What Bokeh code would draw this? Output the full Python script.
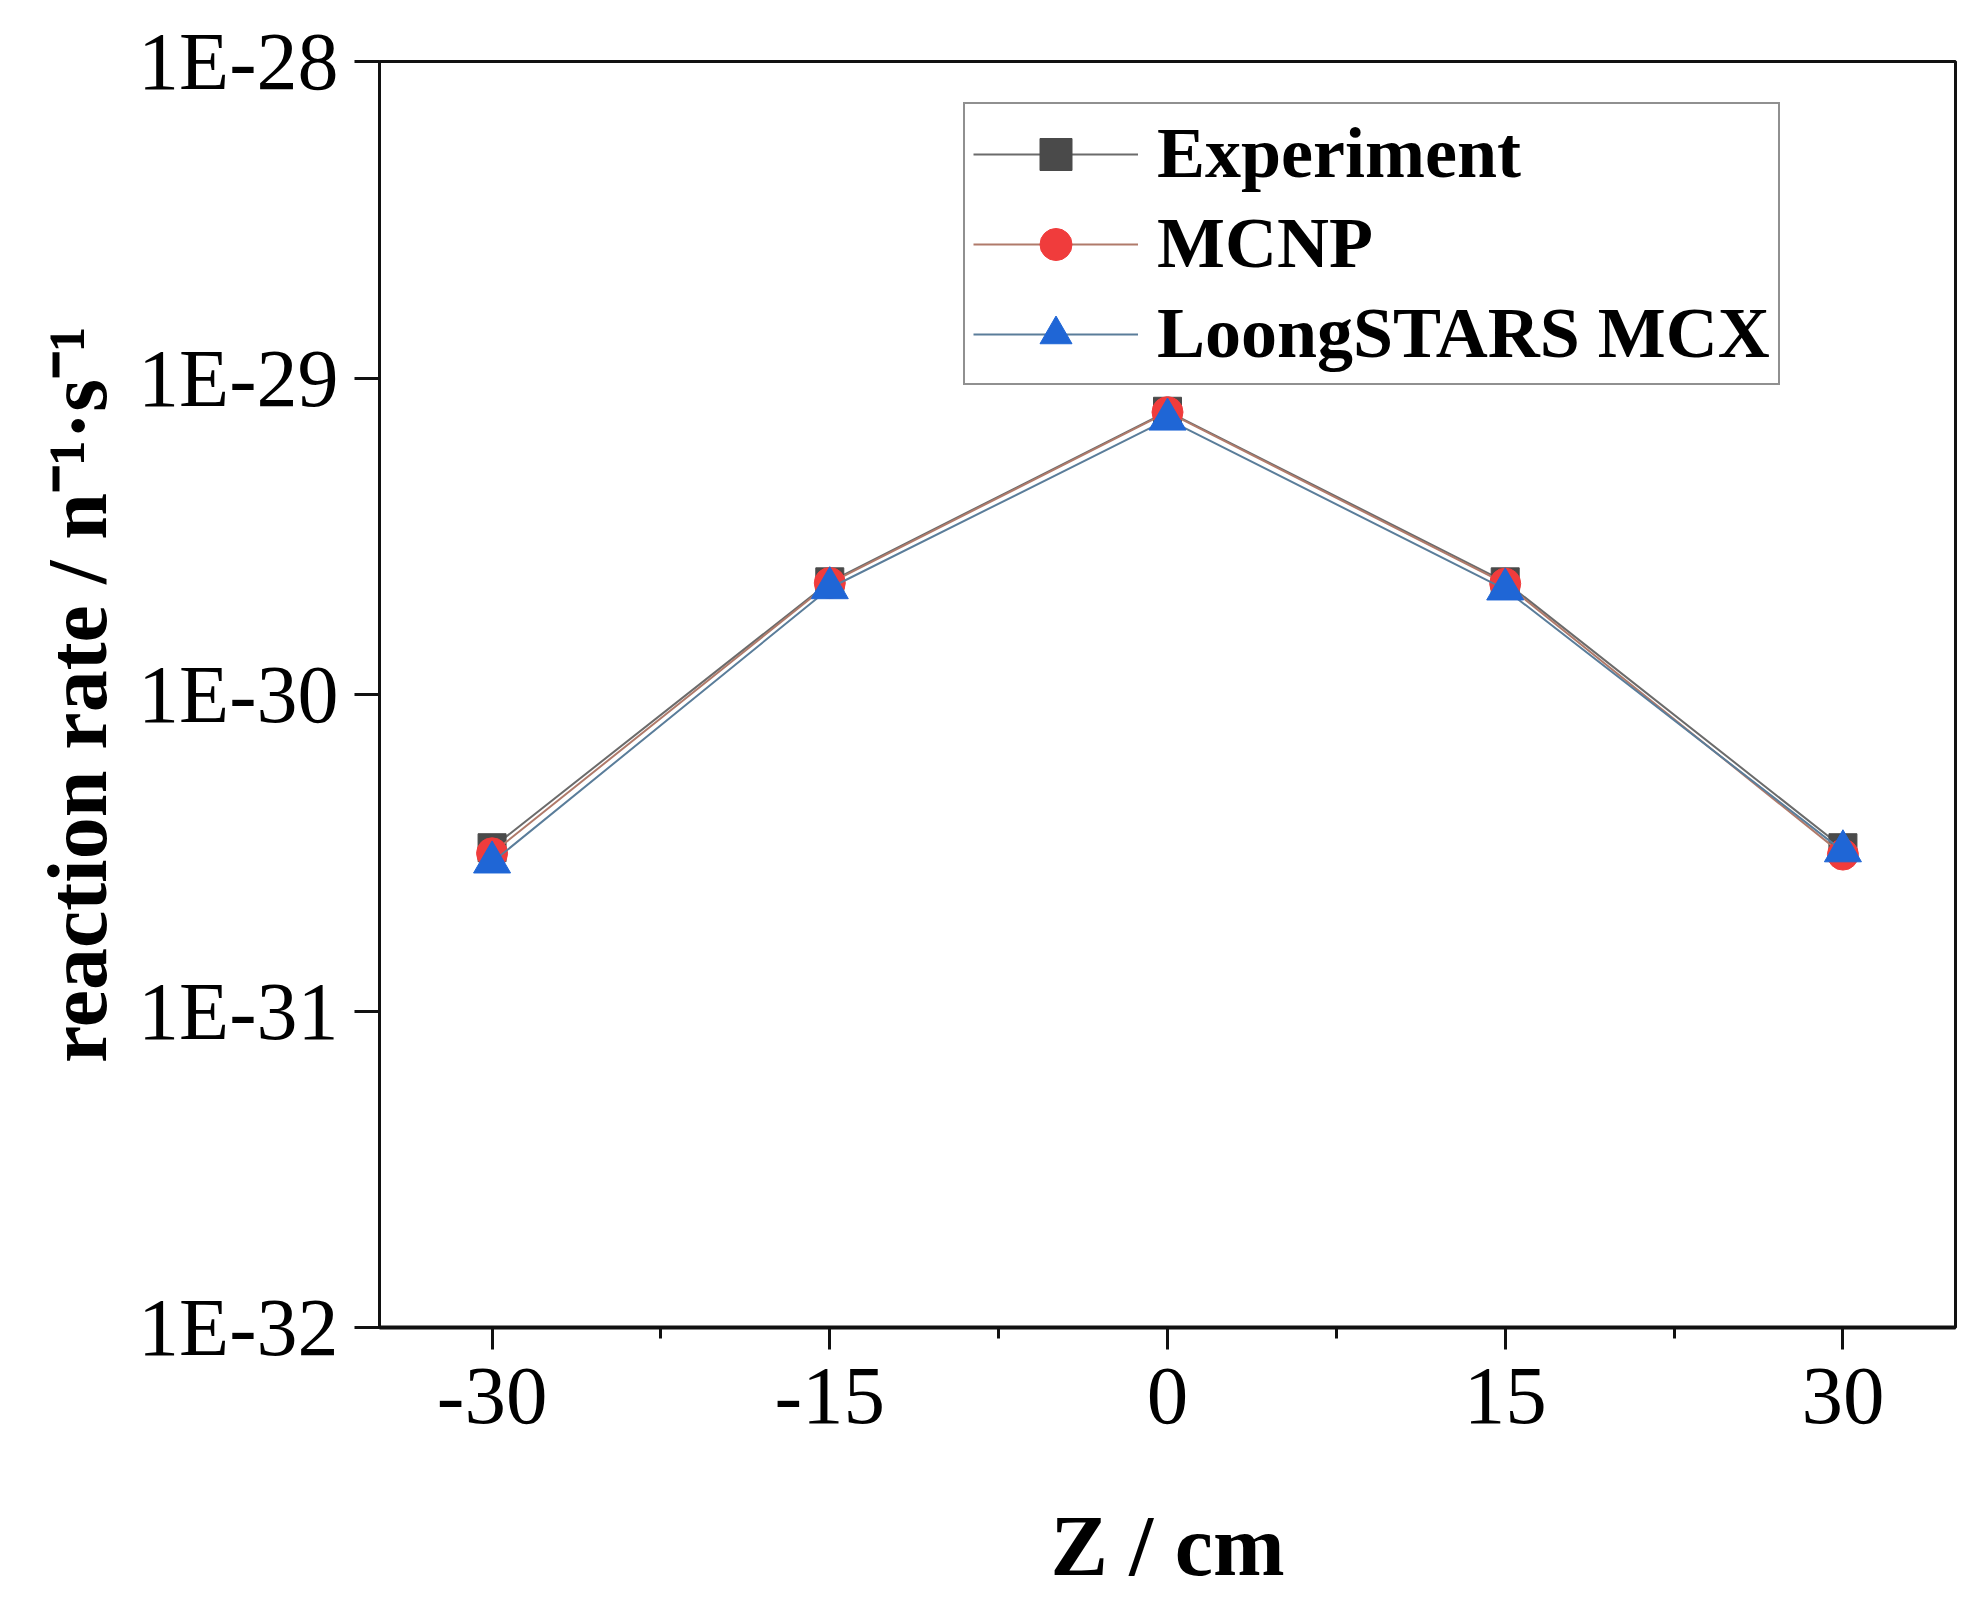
from bokeh.plotting import figure
from bokeh.models import FixedTicker, Legend, LegendItem, Range1d
from bokeh.embed import file_html
from bokeh.resources import INLINE

# ---- data ----
z_cm = [-30, -15, 0, 15, 30]
experiment = [3.28e-31, 2.27e-30, 7.85e-30, 2.27e-30, 3.28e-31]
mcnp = [3.15e-31, 2.25e-30, 7.80e-30, 2.24e-30, 3.12e-31]
mcx = [2.95e-31, 2.17e-30, 7.40e-30, 2.15e-30, 3.20e-31]

series_names = ["Experiment", "MCNP", "LoongSTARS MCX"]

x_ticks = [-30, -15, 0, 15, 30]
x_tick_labels = ["-30", "-15", "0", "15", "30"]
x_minor_ticks = [-22.5, -7.5, 7.5, 22.5]
y_ticks = [1e-32, 1e-31, 1e-30, 1e-29, 1e-28]
y_tick_labels = ["1E-32", "1E-31", "1E-30", "1E-29", "1E-28"]

FONT = "Liberation Serif"

p = figure(
    width=1960, height=1598,
    y_axis_type="log",
    x_range=Range1d(-35, 35),
    y_range=Range1d(1e-32, 1e-28),
    output_backend="svg",
    toolbar_location=None,
    min_border_left=379, min_border_right=5,
    min_border_top=61, min_border_bottom=271,
)
p.background_fill_color = "white"
p.border_fill_color = "white"
p.grid.visible = False
p.outline_line_color = "#111111"
p.outline_line_width = 3

# axes
xa = p.xaxis[0]
xa.ticker = FixedTicker(ticks=x_ticks, minor_ticks=x_minor_ticks)
xa.major_label_overrides = dict(zip(x_ticks, x_tick_labels))
xa.axis_label = "Z / cm"
xa.axis_line_width = 4
xa.axis_line_color = "#111111"
xa.major_tick_out = 22
xa.major_tick_in = 0
xa.minor_tick_out = 11
xa.minor_tick_in = 0
xa.major_tick_line_width = 3
xa.minor_tick_line_width = 3
xa.major_tick_line_color = "#111111"
xa.minor_tick_line_color = "#111111"
xa.major_label_text_font = FONT
xa.major_label_text_font_size = "83px"
xa.major_label_text_color = "black"
xa.major_label_standoff = 19
xa.axis_label_text_font = FONT
xa.axis_label_text_font_style = "bold"
xa.axis_label_text_font_size = "86px"
xa.axis_label_text_color = "black"
xa.axis_label_standoff = 72

ya = p.yaxis[0]
ya.ticker = FixedTicker(ticks=y_ticks, minor_ticks=[])
ya.major_label_overrides = dict(zip(y_ticks, y_tick_labels))
ya.axis_label = "reaction rate / n\u207b\u00b9\u00b7s\u207b\u00b9"
ya.axis_line_width = 3
ya.axis_line_color = "#111111"
ya.major_tick_out = 25
ya.major_tick_in = 0
ya.minor_tick_out = 0
ya.minor_tick_in = 0
ya.major_tick_line_width = 3
ya.major_tick_line_color = "#111111"
ya.major_label_text_font = FONT
ya.major_label_text_font_size = "82px"
ya.major_label_text_color = "black"
ya.major_label_standoff = 16
ya.axis_label_text_font = FONT
ya.axis_label_text_font_style = "bold"
ya.axis_label_text_font_size = "84px"
ya.axis_label_text_color = "black"
ya.axis_label_standoff = 11

# series
styles = [
    dict(line="#6b6b6b", marker="square", fill="#4a4a4a", size=28),
    dict(line="#b07a6a", marker="circle", fill="#f03c3c", size=31),
    dict(line="#5a7d9a", marker="triangle", fill="#1f66d6", size=37),
]
items = []
for name, vals, st in zip(series_names, [experiment, mcnp, mcx], styles):
    lr = p.line(z_cm, vals, line_color=st["line"], line_width=2)
    sr = p.scatter(z_cm, vals, marker=st["marker"], size=st["size"],
                   fill_color=st["fill"], line_color=st["fill"], line_width=1)
    items.append(LegendItem(label=name, renderers=[lr, sr]))

legend = Legend(
    items=items,
    location=(584, 942),
    label_text_font=FONT,
    label_text_font_style="bold",
    label_text_font_size="72px",
    label_text_color="black",
    glyph_width=165,
    glyph_height=80,
    label_height=80,
    label_standoff=19,
    spacing=7,
    padding=8,
    margin=0,
    border_line_color="#222222",
    border_line_width=2,
    background_fill_color="white",
    background_fill_alpha=1.0,
)
p.add_layout(legend, "center")

open("out.html", "w").write(file_html(p, INLINE))
